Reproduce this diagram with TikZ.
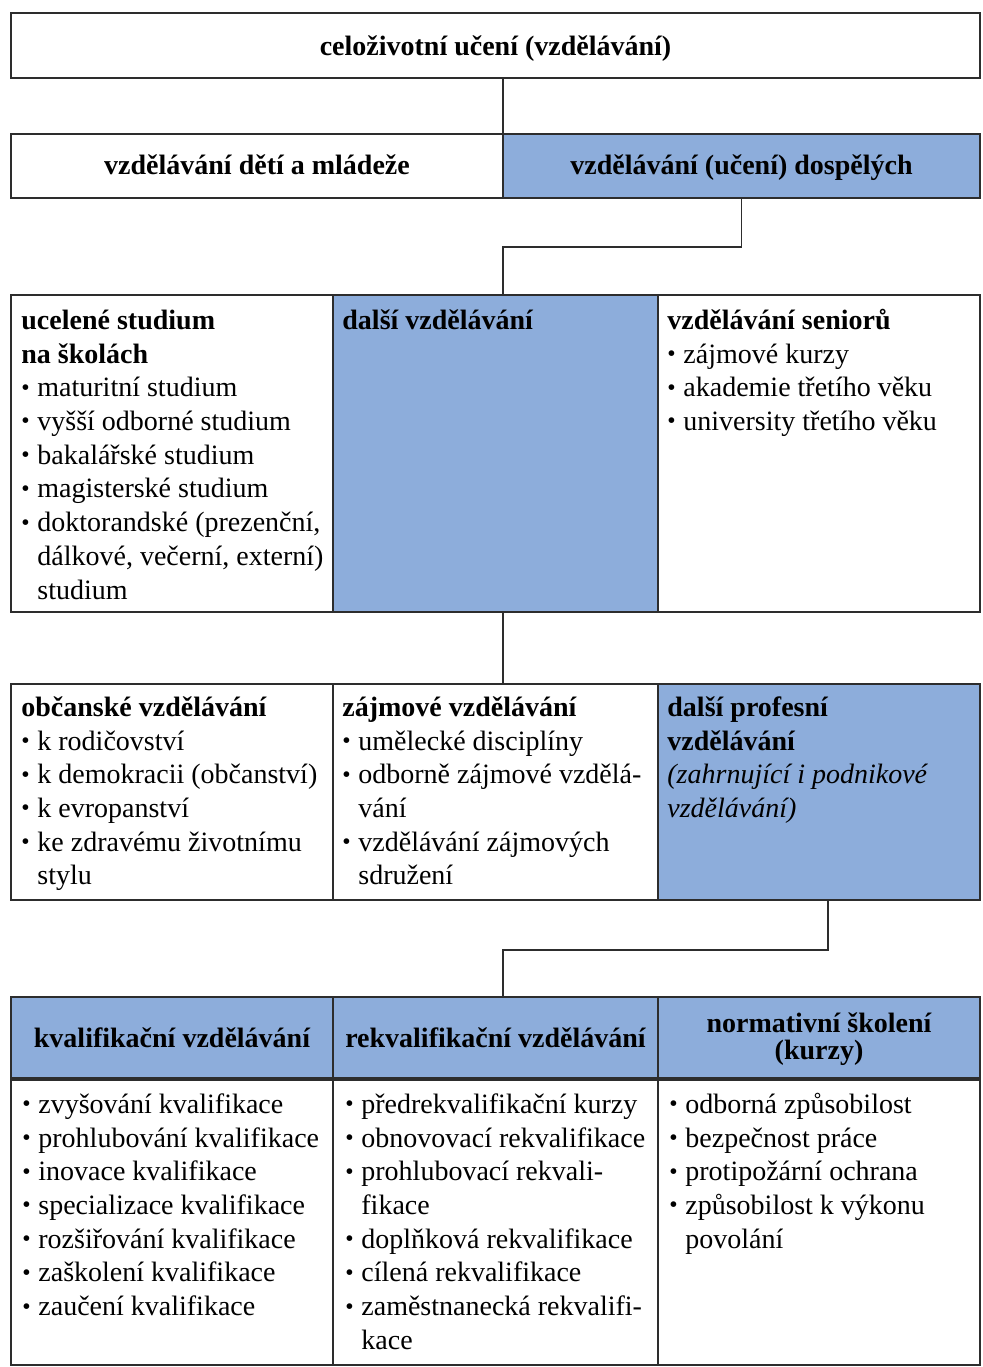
\documentclass[tikz,border=0pt]{standalone}
\usepackage{fontspec}
\setmainfont{Liberation Serif}
\definecolor{cellblue}{RGB}{141,173,219}
\definecolor{linegray}{RGB}{45,45,45}
% small bullet used in the item lists
\newcommand\bul{\makebox[8pt][l]{\raisebox{0.12ex}{\scalebox{0.85}{\textbullet}}}}
\newcommand\ind{\hspace*{8pt}}
% rectangular cell: name, x1, y1, x2, y2, extra style
\newcommand\cellbox[6]{\node[cellst,#6,minimum width={(#4-#2)*0.5pt},minimum height={(#5-#3)*0.5pt}] (#1) at (#2,#3) {};}
\tikzset{
  cellst/.style={draw=linegray, line width=1pt, inner sep=0pt, outer sep=0pt, anchor=north west, fill=white},
  bluecell/.style={fill=cellblue},
  txt/.style={inner sep=0pt, anchor=north west, align=left, font=\fontsize{14}{16.85}\selectfont},
  ctr/.style={inner sep=0pt, anchor=base, align=center, font=\fontsize{14}{16.85}\selectfont\bfseries},
  conn/.style={draw=linegray, line width=0.8pt},
}
\begin{document}
\begin{tikzpicture}[x=0.5pt, y=-0.5pt]
\useasboundingbox (0,0) rectangle (982,1367);

% top box
\cellbox{top}{11}{13}{980}{78}{}
\node[ctr] (ttop) at (495.5,55) {celoživotní učení (vzdělávání)};

% second row
\cellbox{r2l}{11}{134}{503}{198}{}
\cellbox{r2r}{503}{134}{980}{198}{bluecell}
\node[ctr] (t2l) at (257,174) {vzdělávání dětí a mládeže};
\node[ctr] (t2r) at (741.5,174) {vzdělávání (učení) dospělých};

% third row
\cellbox{r3l}{11}{295}{333}{612}{}
\cellbox{r3m}{333}{295}{658}{612}{bluecell}
\cellbox{r3r}{658}{295}{980}{612}{}
\node[txt] (t3l) at (21,305.4) {\strut\textbf{ucelené studium}\\\textbf{na školách}\\
  \bul maturitní studium\\\bul vyšší odborné studium\\\bul bakalářské studium\\
  \bul magisterské studium\\\bul doktorandské (prezenční,\\\ind dálkové, večerní, externí)\\\ind studium};
\node[txt] (t3m) at (342,305.4) {\strut\textbf{další vzdělávání}};
\node[txt] (t3r) at (667,305.4) {\strut\textbf{vzdělávání seniorů}\\
  \bul zájmové kurzy\\\bul akademie třetího věku\\\bul university třetího věku};

% fourth row
\cellbox{r4l}{11}{684}{333}{900}{}
\cellbox{r4m}{333}{684}{658}{900}{}
\cellbox{r4r}{658}{684}{980}{900}{bluecell}
\node[txt] (t4l) at (21,692.4) {\strut\textbf{občanské vzdělávání}\\
  \bul k rodičovství\\\bul k demokracii (občanství)\\\bul k evropanství\\
  \bul ke zdravému životnímu\\\ind stylu};
\node[txt] (t4m) at (342,692.4) {\strut\textbf{zájmové vzdělávání}\\
  \bul umělecké disciplíny\\\bul odborně zájmové vzdělá-\\\ind vání\\
  \bul vzdělávání zájmových\\\ind sdružení};
\node[txt] (t4r) at (667,692.4) {\strut\textbf{další profesní}\\\textbf{vzdělávání}\\
  \textit{(zahrnující i podnikové}\\\textit{vzdělávání)}};

% fifth row: headers and lists
\cellbox{r5hl}{11}{997}{333}{1079}{bluecell}
\cellbox{r5hm}{333}{997}{658}{1079}{bluecell}
\cellbox{r5hr}{658}{997}{980}{1079}{bluecell}
\cellbox{r5bl}{11}{1079}{333}{1365}{}
\cellbox{r5bm}{333}{1079}{658}{1365}{}
\cellbox{r5br}{658}{1079}{980}{1365}{}
\draw[draw=linegray, line width=2pt] (r5hl.south west) -- (r5hr.south east);
\node[ctr] (t5hl) at (172,1047) {kvalifikační vzdělávání};
\node[ctr] (t5hm) at (495.5,1047) {rekvalifikační vzdělávání};
\node[ctr, font=\fontsize{14}{13.5}\selectfont\bfseries] (t5hr) at (819,1059) {normativní školení\\(kurzy)};
\node[txt] (t5bl) at (22,1089.4) {\strut\bul zvyšování kvalifikace\\\bul prohlubování kvalifikace\\
  \bul inovace kvalifikace\\\bul specializace kvalifikace\\\bul rozšiřování kvalifikace\\
  \bul zaškolení kvalifikace\\\bul zaučení kvalifikace};
\node[txt] (t5bm) at (345,1089.4) {\strut\bul předrekvalifikační kurzy\\\bul obnovovací rekvalifikace\\
  \bul prohlubovací rekvali-\\\ind fikace\\\bul doplňková rekvalifikace\\
  \bul cílená rekvalifikace\\\bul zaměstnanecká rekvalifi-\\\ind kace};
\node[txt] (t5br) at (669,1089.4) {\strut\bul odborná způsobilost\\\bul bezpečnost práce\\
  \bul protipožární ochrana\\\bul způsobilost k výkonu\\\ind povolání};

% connectors
\coordinate (j1) at (503,247);
\coordinate (j3) at (828,950);
\coordinate (j4) at (503,950);
\draw[conn] (r2l.north east |- top.south) -- (r2l.north east);
\draw[conn] (r2r.south) |- (j1) -- (j1 |- r3m.north);
\draw[conn] (j1 |- r3m.south) -- (j1 |- r4m.north);
\draw[conn] (j3 |- r4r.south) -- (j3) -- (j4) -- (j4 |- r5hm.north);
\end{tikzpicture}
\end{document}
